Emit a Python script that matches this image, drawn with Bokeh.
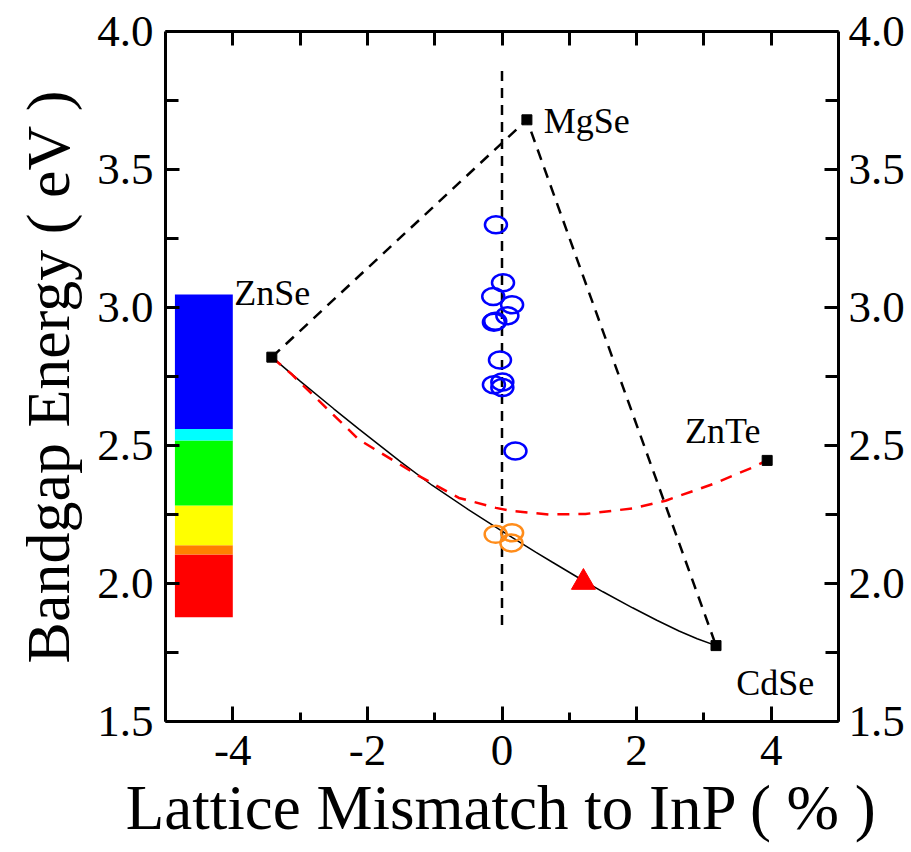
from bokeh.plotting import figure
from bokeh.models import LinearAxis, FixedTicker, Range1d
from bokeh.core.properties import value
from bokeh.embed import file_html
from bokeh.resources import INLINE

# ---- data ----
band_bottom = [1.878, 2.105, 2.139, 2.283, 2.518, 2.56]
band_top = [2.105, 2.139, 2.283, 2.518, 2.56, 3.047]
band_colors = ["#ff0000", "#ff8000", "#ffff00", "#00ff00", "#00ffff", "#0000ff"]
band_left = -4.86
band_right = -4.0

comp_names = ["ZnSe", "MgSe", "CdSe", "ZnTe"]
comp_x = [-3.42, 0.37, 3.18, 3.94]
comp_y = [2.82, 3.68, 1.775, 2.446]
label_x = [-3.98, 0.62, 3.48, 2.72]
label_y = [3.054, 3.674, 1.638, 2.551]

tri_x = [-3.42, 0.37, 3.18]
tri_y = [2.82, 3.68, 1.775]

inp_x = [0.0, 0.0]
inp_y = [1.85, 3.87]

zncdse_x = [-3.42, -3.0, -2.5, -2.13, -1.5, -1.04, -0.5, 0.0, 0.5, 0.75, 1.21, 1.5, 1.94, 2.3, 2.63, 2.9, 3.18]
zncdse_y = [2.82, 2.733, 2.633, 2.56, 2.44, 2.356, 2.268, 2.19, 2.114, 2.077, 2.01, 1.97, 1.912, 1.867, 1.828, 1.80, 1.775]

znsete_x = [-3.42, -3.12, -2.13, -1.23, -0.64, -0.09, 0.13, 0.70, 1.24, 1.94, 2.43, 3.13, 3.72, 3.94]
znsete_y = [2.82, 2.757, 2.522, 2.389, 2.31, 2.274, 2.263, 2.250, 2.252, 2.272, 2.30, 2.36, 2.42, 2.446]

blue_x = [-0.09, 0.015, -0.13, 0.15, 0.08, -0.10, -0.12, -0.03, -0.12, 0.005, 0.005, 0.20]
blue_y = [3.30, 3.09, 3.04, 3.01, 2.97, 2.95, 2.947, 2.81, 2.72, 2.73, 2.71, 2.48]

orange_x = [-0.094, 0.15, 0.14]
orange_y = [2.178, 2.184, 2.147]

tri_pt_x = [1.21]
tri_pt_y = [2.004]

x_major = [-4, -2, 0, 2, 4]
x_major_labels = ["-4", "-2", "0", "2", "4"]
x_minor = [-5, -3, -1, 1, 3, 5]
y_major = [1.5, 2.0, 2.5, 3.0, 3.5, 4.0]
y_major_labels = ["1.5", "2.0", "2.5", "3.0", "3.5", "4.0"]
y_minor = [1.75, 2.25, 2.75, 3.25, 3.75]
top_ticks = [-4, -3, -2, -1, 0, 1, 2, 3, 4]

FONT = "Liberation Serif"

p = figure(frame_width=673, frame_height=690,
           x_range=Range1d(-5, 5), y_range=Range1d(1.5, 4.0),
           output_backend="svg", toolbar_location=None,
           x_axis_location=None, y_axis_location=None,
           min_border_left=165, min_border_right=40, min_border_top=31,
           min_border_bottom=0)
p.xgrid.visible = False
p.ygrid.visible = False
p.outline_line_color = None
p.background_fill_color = "white"
p.border_fill_color = "white"


def style_axis(ax, label_size="45px"):
    ax.axis_line_width = 3
    ax.axis_line_color = "black"
    ax.major_tick_line_width = 3
    ax.minor_tick_line_width = 3
    ax.major_tick_line_color = "black"
    ax.minor_tick_line_color = "black"
    ax.major_tick_out = 0
    ax.minor_tick_out = 0
    ax.major_label_text_font = FONT
    ax.major_label_text_font_style = "normal"
    ax.major_label_text_font_size = label_size
    ax.major_label_text_color = "black"
    ax.axis_label_text_font = FONT
    ax.axis_label_text_font_style = "normal"
    ax.axis_label_text_color = "black"


y_over = {v: s for v, s in zip(y_major, y_major_labels)}
x_over = {v: s for v, s in zip(x_major, x_major_labels)}

left = LinearAxis(ticker=FixedTicker(ticks=y_major, minor_ticks=y_minor))
style_axis(left)
left.major_tick_in = 14
left.minor_tick_in = 13
left.major_label_standoff = 12
left.major_label_overrides = y_over
left.axis_label = "Bandgap Energy ( eV )"
left.axis_label_text_font_size = "62px"
left.axis_label_standoff = 12
p.add_layout(left, "left")

right = LinearAxis(ticker=FixedTicker(ticks=y_major, minor_ticks=y_minor))
style_axis(right)
right.major_tick_in = 14
right.minor_tick_in = 13
right.major_label_standoff = 10
right.major_label_overrides = y_over
p.add_layout(right, "right")

bottom = LinearAxis(ticker=FixedTicker(ticks=x_major, minor_ticks=x_minor))
style_axis(bottom)
bottom.major_tick_in = 15
bottom.minor_tick_in = 9
bottom.major_label_standoff = 14
bottom.major_label_overrides = x_over
bottom.axis_label = "Lattice Mismatch to InP ( % )"
bottom.axis_label_text_font_size = "63px"
bottom.axis_label_standoff = 5
p.add_layout(bottom, "below")

top = LinearAxis(ticker=FixedTicker(ticks=top_ticks, minor_ticks=[]))
style_axis(top)
top.major_tick_in = 14
top.major_label_overrides = {t: "" for t in top_ticks}
top.major_label_standoff = 0
p.add_layout(top, "above")

p.quad(left=band_left, right=band_right, top=band_top, bottom=band_bottom,
       fill_color=band_colors, line_color=None)

p.line(tri_x, tri_y, line_color="black", line_width=2.5, line_dash="11 8")
p.line(inp_x, inp_y, line_color="black", line_width=2.5, line_dash="10 7")
p.line(zncdse_x, zncdse_y, line_color="black", line_width=1.5)
p.line(znsete_x, znsete_y, line_color="#ff0000", line_width=2.5, line_dash="12 9")

p.scatter(comp_x, comp_y, marker="square", size=10, fill_color="black", line_color="black")
p.ellipse(blue_x, blue_y, width=22, height=17, width_units="screen", height_units="screen",
          fill_color=None, line_color="#0000ff", line_width=2.5)
p.ellipse(orange_x, orange_y, width=22, height=17, width_units="screen", height_units="screen",
          fill_color=None, line_color="#ff8c1a", line_width=2.5)
p.scatter(tri_pt_x, tri_pt_y, marker="triangle", size=24, fill_color="#ff0000", line_color="#ff0000")

p.text(label_x, label_y, text=comp_names, text_font=value(FONT), text_font_size="36px",
       text_color="black", text_baseline="alphabetic", text_align="left")

open("out.html", "w").write(file_html(p, INLINE))
